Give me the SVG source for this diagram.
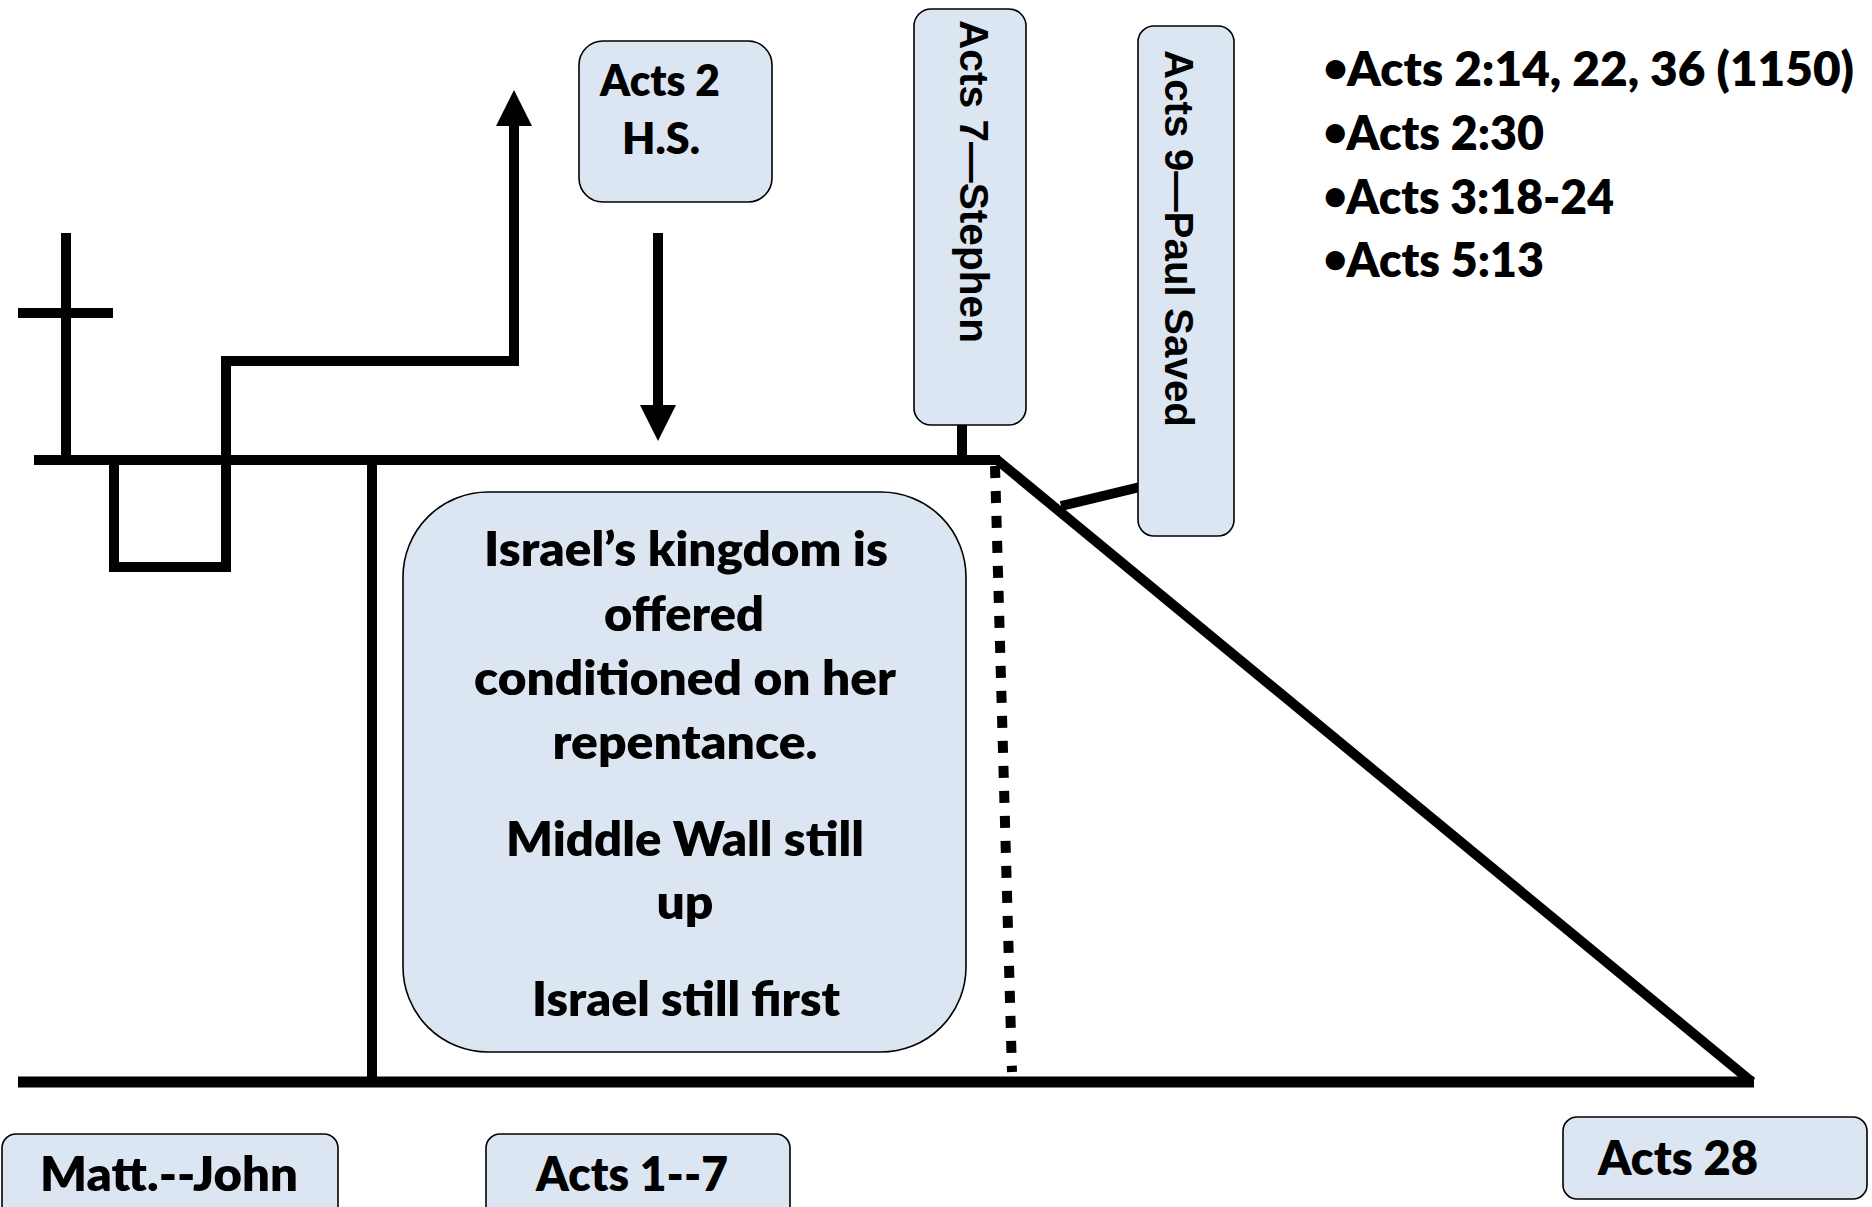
<svg xmlns="http://www.w3.org/2000/svg" width="1872" height="1207" viewBox="0 0 1872 1207">
<style>
.ln{stroke:#000;stroke-width:10;fill:none;stroke-linecap:butt;stroke-linejoin:miter}
.box{fill:#dce6f2;stroke:#000;stroke-width:1.6}
.t{font-family:Lato,"Liberation Sans",sans-serif;font-weight:800;font-size:48px;fill:#000}
.tm{text-anchor:middle}
.b{font-size:40px}
.v{font-family:"Liberation Sans",Arial,sans-serif;font-weight:700;font-size:40px;fill:#000}
</style>
<rect width="1872" height="1207" fill="#fff"/>
<g id="connectors">
<path class="ln" d="M66,233 V460"/>
<path class="ln" d="M18,313 H113"/>
<path class="ln" d="M34,460 H1000"/>
<path class="ln" d="M114,460 V567 H226 V361 H514 V124"/>
<polygon points="514,90 496,126 532,126" fill="#000"/>
<path class="ln" d="M658,233 V408"/>
<polygon points="658,441 640,405 676,405" fill="#000"/>
<path class="ln" d="M372,460 V1082"/>
<path class="ln" style="stroke-width:11" d="M18,1082 H1754"/>
<path class="ln" d="M996,459 L1752,1082"/>
<path class="ln" style="stroke-dasharray:12 13" d="M995,466 L1012,1072"/>
<path class="ln" d="M962,424 V456"/>
<path class="ln" d="M1140,487 L1061,506"/>
</g>
<g id="acts2">
<rect class="box" x="579" y="41" width="193" height="161" rx="24"/>
<text class="t tm" style="font-size:44px" x="660" y="96" textLength="120" lengthAdjust="spacingAndGlyphs">Acts 2</text>
<text class="t tm" style="font-size:44px" x="661" y="154" textLength="78" lengthAdjust="spacingAndGlyphs">H.S.</text>
</g>
<g id="acts7">
<rect class="box" x="914" y="9" width="112" height="416" rx="17"/>
<text class="v" transform="translate(960,20) rotate(90)" textLength="323" lengthAdjust="spacingAndGlyphs">Acts 7—Stephen</text>
</g>
<g id="acts9">
<rect class="box" x="1138" y="26" width="96" height="510" rx="16"/>
<text class="v" transform="translate(1165,50) rotate(90)" textLength="377" lengthAdjust="spacingAndGlyphs">Acts 9—Paul Saved</text>
</g>
<g id="refs">
<text class="t" x="1324" y="86" textLength="530" lengthAdjust="spacingAndGlyphs"><tspan class="b" dy="-5">•</tspan><tspan dy="5">Acts 2:14, 22, 36 (1150)</tspan></text>
<text class="t" x="1324" y="150" textLength="220" lengthAdjust="spacingAndGlyphs"><tspan class="b" dy="-5">•</tspan><tspan dy="5">Acts 2:30</tspan></text>
<text class="t" x="1324" y="214" textLength="290" lengthAdjust="spacingAndGlyphs"><tspan class="b" dy="-5">•</tspan><tspan dy="5">Acts 3:18-24</tspan></text>
<text class="t" x="1324" y="277" textLength="220" lengthAdjust="spacingAndGlyphs"><tspan class="b" dy="-5">•</tspan><tspan dy="5">Acts 5:13</tspan></text>
</g>
<g id="main">
<rect class="box" x="403" y="492" width="563" height="560" rx="85"/>
<text class="t tm" x="686" y="566" textLength="404" lengthAdjust="spacingAndGlyphs">Israel’s kingdom is</text>
<text class="t tm" x="684" y="631" textLength="160" lengthAdjust="spacingAndGlyphs">offered</text>
<text class="t tm" x="685" y="695" textLength="422" lengthAdjust="spacingAndGlyphs">conditioned on her</text>
<text class="t tm" x="685" y="759" textLength="265" lengthAdjust="spacingAndGlyphs">repentance.</text>
<text class="t tm" x="685" y="856" textLength="358" lengthAdjust="spacingAndGlyphs">Middle Wall still</text>
<text class="t tm" x="685" y="919" textLength="57" lengthAdjust="spacingAndGlyphs">up</text>
<text class="t tm" x="686" y="1016" textLength="308" lengthAdjust="spacingAndGlyphs">Israel still first</text>
</g>
<g id="matt">
<rect class="box" x="2" y="1134" width="336" height="100" rx="14"/>
<text class="t" x="40" y="1191" textLength="258" lengthAdjust="spacingAndGlyphs">Matt.--John</text>
</g>
<g id="acts1-7">
<rect class="box" x="486" y="1134" width="304" height="100" rx="14"/>
<text class="t" x="536" y="1191" textLength="192" lengthAdjust="spacingAndGlyphs">Acts 1--7</text>
</g>
<g id="acts28">
<rect class="box" x="1563" y="1117" width="304" height="82" rx="14"/>
<text class="t" x="1598" y="1175" textLength="160" lengthAdjust="spacingAndGlyphs">Acts 28</text>
</g>
</svg>
